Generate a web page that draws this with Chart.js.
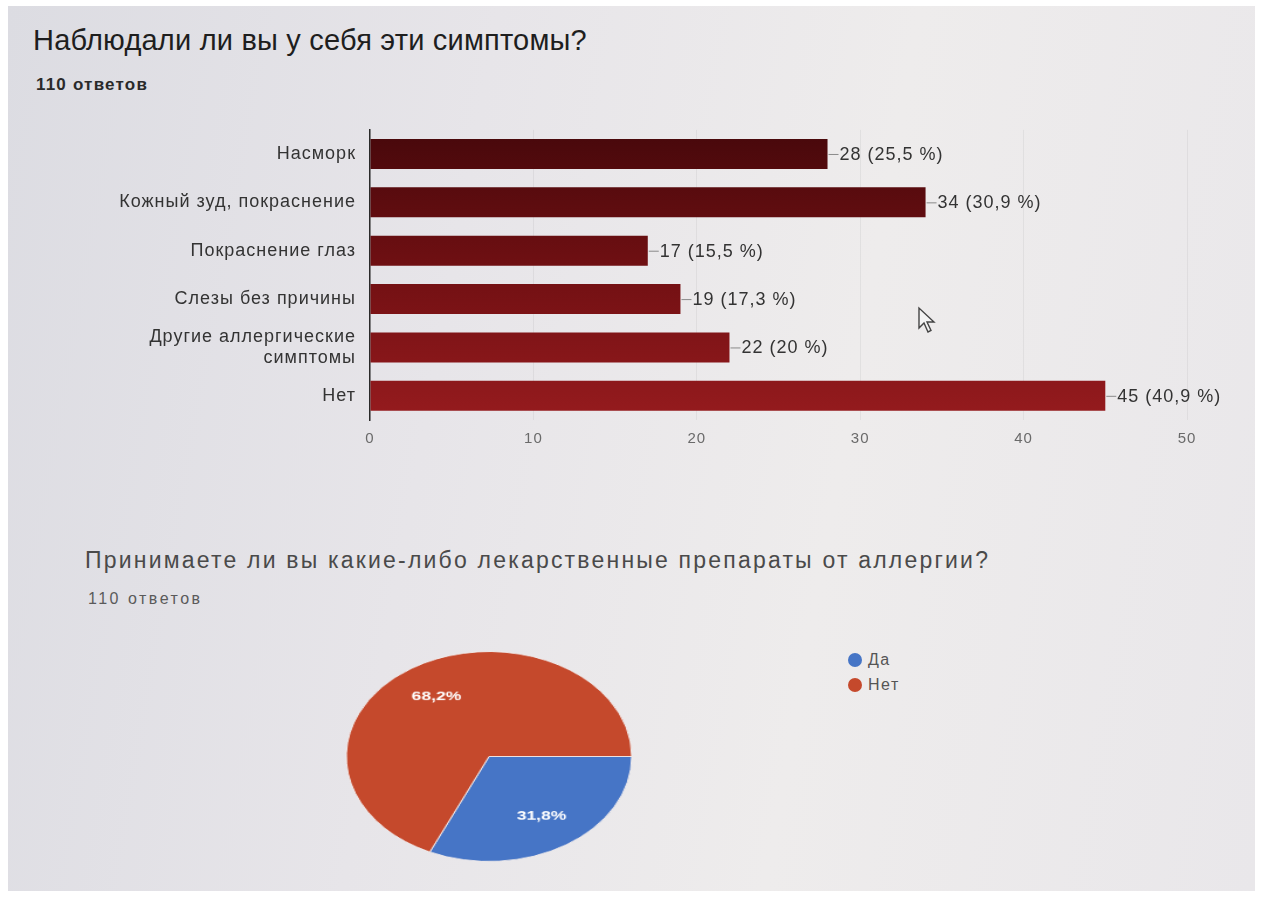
<!DOCTYPE html>
<html lang="ru">
<head>
<meta charset="utf-8">
<title>Наблюдали ли вы у себя эти симптомы?</title>
<script src="https://cdn.jsdelivr.net/npm/chart.js@4.4.1/dist/chart.umd.min.js"></script>
<style>
    html, body { margin: 0; padding: 0; background: #fff; }
    body { width: 1263px; height: 897px; position: relative; overflow: hidden; font-family: 'Liberation Sans', Arial, sans-serif; }
    .panel {
        position: absolute; left: 8px; top: 6px; width: 1247px; height: 885px;
        background: linear-gradient(100deg, #dcdce2 0%, #e7e5e9 35%, #eeecec 65%, #e9e7ea 100%);
        overflow: hidden;
    }
    .abs { position: absolute; white-space: nowrap; }
    #q1 { left: 25px; top: 18px; font-size: 29px; color: #1e1e1e; letter-spacing: 0.2px; }
    #n1 { left: 28px; top: 69px; font-size: 17px; font-weight: bold; color: #2a2a2a; letter-spacing: 1.2px; }
    #q2 { left: 77px; top: 541px; font-size: 23px; color: #4a4a4a; letter-spacing: 2.2px; }
    #n2 { left: 80px; top: 584px; font-size: 16px; color: #5a5a5a; letter-spacing: 2.5px; }
    #bar-wrap { position: absolute; left: 92px; top: 107px; width: 1160px; height: 345px; }
    #pie-wrap { position: absolute; left: 321px; top: 628px; width: 320px; height: 245px; transform: scale(1.17, 0.86); transform-origin: 50% 50%; }
    #legend { position: absolute; left: 840px; top: 641px; font-size: 16px; color: #555; letter-spacing: 1.5px; }
    #legend div { display: flex; align-items: center; height: 25px; }
    #legend span.dot { width: 14px; height: 14px; border-radius: 50%; margin-right: 6px; display: inline-block; }
    #cursor { position: absolute; left: 909px; top: 300px; }
</style>
</head>
<body>
<div class="panel">
    <div class="abs" id="q1">Наблюдали ли вы у себя эти симптомы?</div>
    <div class="abs" id="n1">110 ответов</div>
    <div id="bar-wrap"><canvas id="bar-chart"></canvas></div>
    <svg id="cursor" width="24" height="30" viewBox="0 0 24 30">
        <path d="M2 2 L2 22 L7 17 L11 26 L14 24.5 L10 16 L17 16 Z" fill="#f4f4f4" stroke="#444" stroke-width="1.4"/>
    </svg>
    <div class="abs" id="q2">Принимаете ли вы какие-либо лекарственные препараты от аллергии?</div>
    <div class="abs" id="n2">110 ответов</div>
    <div id="pie-wrap"><canvas id="pie-chart"></canvas></div>
    <div id="legend"></div>
</div>
<script>
Chart.defaults.font.family = "'Liberation Sans', Arial, sans-serif";
Chart.defaults.color = '#666';

// ---- Symptoms (bar) ----------------------------------------------------
const SYMPTOMS = ['Насморк', 'Кожный зуд, покраснение', 'Покраснение глаз', 'Слезы без причины', ['Другие аллергические', 'симптомы'], 'Нет'];
const SYMPTOM_COUNTS = [28, 34, 17, 19, 22, 45];
const SYMPTOM_PERCENTS = ['25,5', '30,9', '15,5', '17,3', '20', '40,9'];
const X_TICKS = [0, 10, 20, 30, 40, 50];

// ---- Medication (pie) --------------------------------------------------
const MED_LABELS = ['Да', 'Нет'];
const MED_VALUES = [31.8, 68.2];
const MED_TEXT = ['31,8%', '68,2%'];
const MED_COLORS = ['#4675c6', '#c5492c'];

// the photographed screen renders text a bit wider than the plain font
const spacing = {
    id: 'spacing',
    beforeLayout(chart) { chart.ctx.letterSpacing = '1px'; },
    beforeDraw(chart) { chart.ctx.letterSpacing = '1px'; }
};

const barLabels = {
    id: 'barLabels',
    afterDatasetsDraw(chart) {
        const ctx = chart.ctx;
        const meta = chart.getDatasetMeta(0);
        ctx.save();
        ctx.font = "18px 'Liberation Sans', Arial, sans-serif";
        ctx.textBaseline = 'middle';
        meta.data.forEach((bar, i) => {
            ctx.strokeStyle = '#8a8a8a';
            ctx.lineWidth = 1;
            ctx.beginPath();
            ctx.moveTo(bar.x + 1, bar.y + 0.5);
            ctx.lineTo(bar.x + 11, bar.y + 0.5);
            ctx.stroke();
            ctx.fillStyle = '#333';
            ctx.fillText(`${SYMPTOM_COUNTS[i]} (${SYMPTOM_PERCENTS[i]} %)`, bar.x + 12, bar.y + 1);
        });
        ctx.restore();
    }
};

new Chart(document.getElementById('bar-chart'), {
    type: 'bar',
    data: {
        labels: SYMPTOMS,
        datasets: [{
            data: SYMPTOM_COUNTS,
            backgroundColor: ctx => {
                const { chart } = ctx;
                const area = chart.chartArea;
                if (!area) return '#7a1014';
                const g = chart.ctx.createLinearGradient(0, area.top, 0, area.bottom);
                g.addColorStop(0, '#47080b');
                g.addColorStop(0.5, '#721013');
                g.addColorStop(1, '#961b1e');
                return g;
            },
            barPercentage: 0.62,
            categoryPercentage: 1,
        }]
    },
    options: {
        indexAxis: 'y',
        responsive: true,
        maintainAspectRatio: false,
        animation: false,
        layout: { padding: { top: 2, right: 73 } },
        plugins: { legend: { display: false }, tooltip: { enabled: false } },
        scales: {
            x: {
                min: 0, max: 50,
                afterBuildTicks: s => { s.ticks = X_TICKS.map(v => ({ value: v })); },
                afterFit: s => { s.height = 38; },
                grid: { color: 'rgba(0,0,0,0.05)', drawTicks: false },
                border: { display: false },
                ticks: { padding: 10, color: '#6a6a6a', font: { size: 15 } },
            },
            y: {
                afterFit: s => { s.width = 270; },
                grid: { display: false },
                border: { display: true, color: '#2a2a2a', width: 1.5 },
                ticks: { padding: 6, color: '#333', font: { size: 18 } },
            }
        }
    },
    plugins: [spacing, barLabels]
});

// ---- Pie ---------------------------------------------------------------
const pieLabels = {
    id: 'pieLabels',
    afterDatasetsDraw(chart) {
        const ctx = chart.ctx;
        const meta = chart.getDatasetMeta(0);
        ctx.save();
        ctx.font = "bold 15px 'Liberation Sans', Arial, sans-serif";
        ctx.fillStyle = '#fff';
        ctx.textAlign = 'center';
        ctx.textBaseline = 'middle';
        meta.data.forEach((arc, i) => {
            const p = arc.getProps(['x', 'y', 'startAngle', 'endAngle', 'outerRadius']);
            const mid = (p.startAngle + p.endAngle) / 2;
            const r = p.outerRadius * 0.68;
            ctx.fillText(MED_TEXT[i], p.x + Math.cos(mid) * r, p.y + Math.sin(mid) * r);
        });
        ctx.restore();
    }
};

new Chart(document.getElementById('pie-chart'), {
    type: 'pie',
    data: {
        labels: MED_LABELS,
        datasets: [{
            data: MED_VALUES,
            backgroundColor: MED_COLORS,
            borderColor: '#f1ecec',
            borderWidth: 1,
        }]
    },
    options: {
        responsive: true,
        maintainAspectRatio: false,
        animation: false,
        rotation: 90,
        plugins: { legend: { display: false }, tooltip: { enabled: false } },
    },
    plugins: [pieLabels]
});

const legend = document.getElementById('legend');
MED_LABELS.forEach((name, i) => {
    const row = document.createElement('div');
    row.innerHTML = `<span class="dot" style="background:${MED_COLORS[i]}"></span>${name}`;
    legend.appendChild(row);
});
</script>
</body>
</html>
